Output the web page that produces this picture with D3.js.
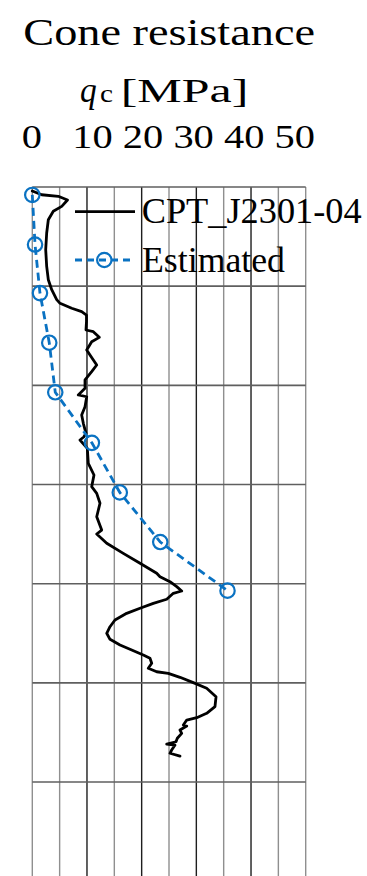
<!DOCTYPE html>
<html>
<head>
<meta charset="utf-8">
<script src="https://cdn.jsdelivr.net/npm/d3@7"></script>
<style>
  html, body { margin: 0; padding: 0; background: #fff; }
  svg { display: block; }
</style>
</head>
<body>
<svg id="chart" width="367" height="876"></svg>
<script>
// Measured cone resistance profile (depth in grid units, qc in MPa)
const cptDepth = [0.04, 0.078, 0.094, 0.131, 0.195, 0.245, 0.330, 0.464, 0.632, 0.800,
  0.935, 1.036, 1.136, 1.173, 1.223, 1.257, 1.291, 1.358, 1.442, 1.459,
  1.516, 1.560, 1.644, 1.694, 1.795, 1.862, 1.946, 2.030, 2.097, 2.115,
  2.215, 2.299, 2.383, 2.484, 2.521, 2.551, 2.635, 2.786, 2.904, 3.022,
  3.089, 3.189, 3.325, 3.459, 3.499, 3.593, 3.694, 3.794, 3.895, 3.930,
  3.980, 4.030, 4.074, 4.097, 4.157, 4.198, 4.248, 4.299, 4.366, 4.434,
  4.500, 4.561, 4.618, 4.669, 4.719, 4.752, 4.803, 4.853, 4.888, 4.904,
  4.944, 4.998, 5.055, 5.140, 5.240, 5.307, 5.351, 5.375, 5.425, 5.435,
  5.476, 5.509, 5.559, 5.594, 5.617, 5.627, 5.677, 5.710, 5.738];
const cptQc = [0.0, 1.72, 4.75, 6.44, 5.38, 3.84, 2.93, 2.63, 2.45, 2.63,
  2.93, 3.55, 4.46, 5.07, 7.21, 9.03, 9.91, 9.91, 9.82, 11.16,
  12.25, 10.86, 9.95, 10.55, 11.78, 10.86, 9.64, 9.64, 8.41, 9.95,
  9.64, 9.03, 9.33, 9.82, 9.40, 8.72, 10.06, 10.24, 11.28, 10.86,
  11.78, 12.38, 11.78, 12.69, 11.78, 13.61, 16.64, 19.70, 22.75, 23.35,
  25.18, 26.41, 27.32, 25.79, 24.58, 22.13, 19.70, 17.26, 15.12, 14.21,
  13.61, 14.21, 16.04, 18.18, 20.30, 21.52, 21.84, 21.21, 22.75, 24.87,
  27.01, 29.44, 31.89, 33.60, 33.41, 31.89, 30.07, 28.24, 27.62, 28.24,
  27.01, 27.32, 26.52, 26.28, 24.58, 26.10, 25.49, 25.18, 27.01];

// Estimated cone resistance
const estDepth = [0.08, 0.58, 1.07, 1.57, 2.07, 2.58, 3.08, 3.58, 4.07];
const estQc = [0.0, 0.5, 1.4, 3.1, 4.2, 10.9, 16.0, 23.4, 35.7];

// Axis ticks and labels
const qcGridTicks = [0, 5, 10, 15, 20, 25, 30, 35, 40, 45, 50];
const qcTickLabels = ["0", "10", "20", "30", "40", "50"];
const depthGridTicks = [0, 1, 2, 3, 4, 5, 6];
const seriesNames = ["CPT_J2301-04", "Estimated"];
const titleText = "Cone resistance";
const unitSymbol = "q";
const unitSubscript = "c";
const unitText = "[MPa]";

const W = 367, H = 876;
const serif = "'Liberation Serif', 'Times New Roman', Times, serif";
const blue = "#0A72C2";

const svg = d3.select("#chart");

const x = d3.scaleLinear().domain([0, 50]).range([32.3, 305.7]);
const y = d3.scaleLinear().domain([0, 7]).range([187, 881.2]);

// Text helper: fits a string into a given horizontal extent
function fitText(str, x0, baseline, size, width, style) {
  const t = svg.append("text")
    .attr("x", x0).attr("y", baseline)
    .attr("font-family", serif)
    .attr("font-size", size)
    .attr("fill", "#000")
    .attr("textLength", width)
    .attr("lengthAdjust", "spacingAndGlyphs")
    .text(str);
  if (style) t.attr("font-style", style);
  return t;
}

// Header
fitText(titleText, 23.3, 45, 37, 291.7);
fitText(unitSymbol, 80, 101.7, 35, 16.7, "italic");
fitText(unitSubscript, 100, 101.7, 25, 13);
fitText(unitText, 120.7, 101.7, 34, 127.6);
fitText(qcTickLabels[0] + "\u00A0\u00A0\u00A0" + qcTickLabels.slice(1).join("\u00A0"), 21.7, 148, 34, 293.3);

// Grid
const grid = svg.append("g");
grid.selectAll("line.v")
  .data(qcGridTicks)
  .join("line")
  .attr("class", "v")
  .attr("x1", d => x(d)).attr("x2", d => x(d))
  .attr("y1", y(0)).attr("y2", H)
  .attr("stroke", d => (d % 10 === 0 && d > 0 && d < 50) ? "#1e1e1e" : "#8f8f8f")
  .attr("stroke-width", 1.4);

grid.selectAll("line.h")
  .data(depthGridTicks)
  .join("line")
  .attr("class", "h")
  .attr("x1", x(0)).attr("x2", x(50))
  .attr("y1", d => y(d)).attr("y2", d => y(d))
  .attr("stroke", "#5f5f5f")
  .attr("stroke-width", 1.6);

// Series
const cpt = cptDepth.map((d, i) => ({ depth: d, qc: cptQc[i] }));
const est = estDepth.map((d, i) => ({ depth: d, qc: estQc[i] }));
const line = d3.line().x(d => x(d.qc)).y(d => y(d.depth));

svg.append("path")
  .datum(cpt)
  .attr("d", line)
  .attr("fill", "none")
  .attr("stroke", "#000")
  .attr("stroke-width", 2.8)
  .attr("stroke-linejoin", "round")
  .attr("stroke-linecap", "round");

svg.append("path")
  .datum(est)
  .attr("d", line)
  .attr("fill", "none")
  .attr("stroke", blue)
  .attr("stroke-width", 2.8)
  .attr("stroke-dasharray", "8,5");

svg.selectAll("circle.est")
  .data(est)
  .join("circle")
  .attr("class", "est")
  .attr("cx", d => x(d.qc))
  .attr("cy", d => y(d.depth))
  .attr("r", 7.2)
  .attr("fill", "none")
  .attr("stroke", blue)
  .attr("stroke-width", 2.2);

// Legend
const lg = svg.append("g");
lg.append("line")
  .attr("x1", 75).attr("x2", 135).attr("y1", 211.7).attr("y2", 211.7)
  .attr("stroke", "#000").attr("stroke-width", 2.8);
fitText(seriesNames[0], 141.7, 223.3, 35, 220);

lg.append("line")
  .attr("x1", 75).attr("x2", 135).attr("y1", 260).attr("y2", 260)
  .attr("stroke", blue).attr("stroke-width", 2.8)
  .attr("stroke-dasharray", "7,5");
lg.append("circle")
  .attr("cx", 104.3).attr("cy", 260).attr("r", 7.2)
  .attr("fill", "none").attr("stroke", blue).attr("stroke-width", 2.2);
fitText(seriesNames[1], 142, 271.7, 35, 143);
</script>
</body>
</html>
